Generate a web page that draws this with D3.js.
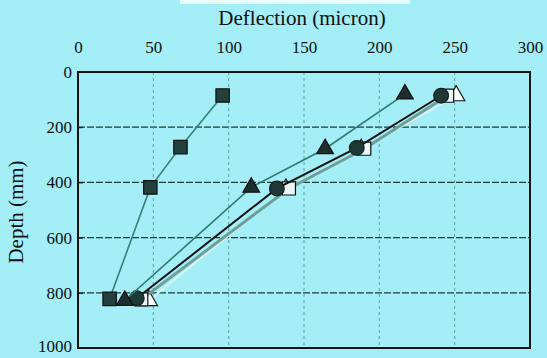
<!DOCTYPE html>
<html><head><meta charset="utf-8">
<script src="https://cdn.jsdelivr.net/npm/d3@7"></script>
<style>html,body{margin:0;padding:0;background:#a3eef7;}svg{display:block;}</style>
</head><body>
<script>
const xTicks = [0, 50, 100, 150, 200, 250, 300];
const yTicks = [0, 200, 400, 600, 800, 1000];
const depthSquares = [85, 272, 418, 822];
const deflSquares = [96, 68, 48, 21];
const depthTriangles = [80, 278, 418, 828];
const deflTriangles = [217, 164, 115, 31];
const depthCircles = [86, 275, 422, 820];
const deflCircles = [241, 185, 132, 39];
const depthOpenSquares = [86, 278, 422, 824];
const deflOpenSquares = [245, 190, 140, 42];
const depthOpenTriangles = [86, 280, 424, 828];
const deflOpenTriangles = [251, 188, 138, 47];

const W = 547, H = 358;
const m = {l: 78, r: 17, t: 72, b: 10};
const svg = d3.select("body").append("svg").attr("width", W).attr("height", H);
svg.append("rect").attr("width", W).attr("height", H).attr("fill", "#a3eef7");
svg.append("rect").attr("x", 180).attr("y", 0).attr("width", 230).attr("height", 4).attr("fill", "#e8fbfd");

const x = d3.scaleLinear().domain([0, 300]).range([m.l, W - m.r]);
const y = d3.scaleLinear().domain([0, 1000]).range([m.t, H - m.b]);

// grid
svg.append("g").selectAll("line").data(yTicks.filter(d => d > 0 && d < 1000)).join("line")
  .attr("x1", x(0)).attr("x2", x(300)).attr("y1", d => y(d)).attr("y2", d => y(d))
  .attr("stroke", "#1a3f3d").attr("stroke-width", 1.3).attr("stroke-dasharray", "7,2");
svg.append("g").selectAll("line").data(xTicks.filter(d => d > 0 && d < 300)).join("line")
  .attr("x1", d => x(d)).attr("x2", d => x(d)).attr("y1", y(0)).attr("y2", y(1000))
  .attr("stroke", "#4a8f8b").attr("stroke-width", 0.8).attr("stroke-dasharray", "3,3");

// axes
const xAxis = svg.append("g").attr("transform", `translate(0,${y(0)})`)
  .call(d3.axisTop(x).tickValues(xTicks).tickSize(0).tickPadding(19).tickFormat(d3.format("d")));
xAxis.select(".domain").remove();
xAxis.selectAll("text").attr("font-family", "Liberation Serif").attr("font-size", 17).attr("fill", "#111");
const yAxis = svg.append("g").attr("transform", `translate(${x(0)},0)`)
  .call(d3.axisLeft(y).tickValues(yTicks).tickSize(-5).tickPadding(6).tickFormat(d3.format("d")));
yAxis.select(".domain").remove();
yAxis.selectAll("line").attr("stroke", "#111");
yAxis.selectAll("text").attr("font-family", "Liberation Serif").attr("font-size", 17).attr("fill", "#111");
yAxis.selectAll("text").filter(d => d === 1000).attr("dy", "0.2em");

// border
svg.append("rect").attr("x", x(0)).attr("y", y(0)).attr("width", x(300) - x(0)).attr("height", y(1000) - y(0))
  .attr("fill", "none").attr("stroke", "#111").attr("stroke-width", 2);

// titles
svg.append("text").attr("x", 302).attr("y", 25).attr("text-anchor", "middle")
  .attr("font-family", "Liberation Serif").attr("font-size", 21).attr("fill", "#111").text("Deflection (micron)");
svg.append("text").attr("transform", `translate(23,${212}) rotate(-90)`).attr("text-anchor", "middle")
  .attr("font-family", "Liberation Serif").attr("font-size", 21).attr("fill", "#111").text("Depth (mm)");

const line = d3.line().x(d => x(d[0])).y(d => y(d[1]));
const series = [
  {d: deflOpenTriangles, z: depthOpenTriangles, stroke: "#d8f2f0", w: 2, sym: d3.symbolTriangle, fill: "#fff", ms: "#111", size: 130},
  {d: deflOpenSquares, z: depthOpenSquares, stroke: "#6d9e98", w: 3, sym: d3.symbolSquare, fill: "#eaf7f6", ms: "#111", size: 170},
  {d: deflCircles, z: depthCircles, stroke: "#111", w: 2, sym: d3.symbolCircle, fill: "#1f3a36", ms: "#0e1f1d", size: 170},
  {d: deflTriangles, z: depthTriangles, stroke: "#2f7a70", w: 1.6, sym: d3.symbolTriangle, fill: "#1d2f2c", ms: "#111", size: 120},
  {d: deflSquares, z: depthSquares, stroke: "#3a8078", w: 1.6, sym: d3.symbolSquare, fill: "#22403c", ms: "#111", size: 180}
];
series.forEach(s => {
  const pts = s.d.map((v, i) => [v, s.z[i]]);
  svg.append("path").attr("d", line(pts)).attr("fill", "none").attr("stroke", s.stroke).attr("stroke-width", s.w);
  svg.append("g").selectAll("path").data(pts).join("path")
    .attr("transform", p => `translate(${x(p[0])},${y(p[1])})`)
    .attr("d", d3.symbol().type(s.sym).size(s.size))
    .attr("fill", s.fill).attr("stroke", s.ms).attr("stroke-width", 1.2);
});
</script>
</body></html>
